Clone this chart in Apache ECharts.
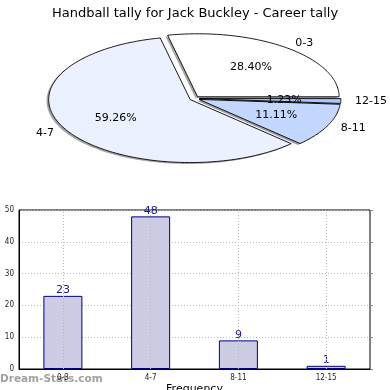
<!DOCTYPE html>
<html>
<head>
<meta charset="utf-8">
<script src="https://cdn.jsdelivr.net/npm/echarts@6/dist/echarts.min.js"></script>
<style>html,body{margin:0;padding:0;background:#fff}#c{width:390px;height:390px}</style>
</head>
<body>
<div id="c"></div>
<script>
const titleText = 'Handball tally for Jack Buckley - Career tally';
const categories = ['0-3', '4-7', '8-11', '12-15'];
const counts = [23, 48, 9, 1];
const pieColors = ['#ffffff', '#ebf1ff', '#c4d8ff', '#a9c4ff'];
const yTicks = [0, 10, 20, 30, 40, 50];

const total = counts.reduce((a, b) => a + b, 0);
const startAng = [], endAng = [];
let acc = 0;
counts.forEach(v => { startAng.push(acc / total * 360); acc += v; endAng.push(acc / total * 360); });
const EXPLODE = 0.035;
const DEG = Math.PI / 180;

function slicePoints(i, api, sx, sy) {
  const a0 = startAng[i], a1 = endAng[i];
  const mid = (a0 + a1) / 2 * DEG;
  const ox = EXPLODE * Math.cos(mid) + sx, oy = EXPLODE * Math.sin(mid) + sy;
  const pts = [api.coord([ox, oy])];
  const steps = Math.max(2, Math.ceil((a1 - a0) / 1));
  for (let k = 0; k <= steps; k++) {
    const t = (a0 + (a1 - a0) * k / steps) * DEG;
    pts.push(api.coord([ox + Math.cos(t), oy + Math.sin(t)]));
  }
  return pts;
}

const chart = echarts.init(document.getElementById('c'), null, {renderer: 'canvas'});
const font = 'DejaVu Sans';
chart.setOption({
  animation: false,
  backgroundColor: '#fff',
  title: {text: titleText, left: 'center', top: 2, textStyle: {fontFamily: font, fontSize: 13, fontWeight: 'normal', color: '#000'}},
  graphic: [{type: 'text', left: 0, top: 374, style: {text: 'Dream-Stats.com', fill: '#a0a0a0', font: 'bold 10.5px "DejaVu Sans"'}}],
  grid: [
    {left: 53, top: 35.5, width: 283, height: 126, show: false, containLabel: false, outerBoundsMode: 'none'},
    {left: 19, top: 210, width: 351, height: 159, show: true, borderColor: '#000', borderWidth: 1, backgroundColor: 'transparent', containLabel: false, outerBoundsMode: 'none'}
  ],
  xAxis: [
    {gridIndex: 0, type: 'value', min: -1, max: 1, show: false},
    {gridIndex: 1, type: 'category', data: categories,
      axisLine: {show: true, lineStyle: {color: '#000'}}, axisTick: {show: false},
      axisLabel: {fontFamily: 'DejaVu Sans Condensed', fontSize: 8, color: '#222', margin: 5},
      name: 'Frequency', nameLocation: 'middle', nameGap: 15,
      nameTextStyle: {fontFamily: font, fontSize: 11, color: '#000'}}
  ],
  yAxis: [
    {gridIndex: 0, type: 'value', min: -1, max: 1, show: false},
    {gridIndex: 1, type: 'value', min: yTicks[0], max: yTicks[yTicks.length - 1], interval: 10,
      axisLine: {show: true, lineStyle: {color: '#000'}}, axisTick: {show: false},
      axisLabel: {fontFamily: 'DejaVu Sans Condensed', fontSize: 8, color: '#222', margin: 5},
      splitLine: {show: true, lineStyle: {color: '#b8b8b8', type: [1, 2], width: 1}}},
    {gridIndex: 1, type: 'value', position: 'right', min: 0, max: 50, interval: 10,
      axisLine: {show: false}, axisTick: {show: true, length: 3, lineStyle: {color: '#888'}},
      axisLabel: {show: false}, splitLine: {show: false}}
  ],
  series: [
    {type: 'custom', xAxisIndex: 0, yAxisIndex: 0, z: 1, silent: true,
      data: counts.map((v, i) => [v, i]),
      renderItem: function (params, api) {
        const i = params.dataIndex;
        const pts = slicePoints(i, api, -0.015, -0.022);
        const f = echarts.color.parse(pieColors[i]);
        const c = 'rgba(' + Math.round(f[0] * 0.3) + ',' + Math.round(f[1] * 0.3) + ',' + Math.round(f[2] * 0.3) + ',0.5)';
        return {type: 'polygon', shape: {points: pts}, style: {fill: c}};
      }},
    {type: 'custom', xAxisIndex: 0, yAxisIndex: 0, z: 2, silent: true,
      data: counts.map((v, i) => [v, i]),
      renderItem: function (params, api) {
        const i = params.dataIndex;
        const pts = slicePoints(i, api, 0, 0);
        const mid = (startAng[i] + endAng[i]) / 2 * DEG;
        const ox = EXPLODE * Math.cos(mid), oy = EXPLODE * Math.sin(mid);
        const pctPos = api.coord([ox + 0.6 * Math.cos(mid), oy + 0.6 * Math.sin(mid)]);
        const lblPos = api.coord([ox + 1.1 * Math.cos(mid), oy + 1.1 * Math.sin(mid)]);
        const pct = (counts[i] / total * 100).toFixed(2) + '%';
        return {type: 'group', children: [
          {type: 'polygon', shape: {points: pts}, style: {fill: pieColors[i], stroke: '#000', lineWidth: 0.9}},
          {type: 'text', x: pctPos[0], y: pctPos[1], z2: 10, style: {text: pct, fill: '#000', font: '11px "DejaVu Sans"', align: 'center', verticalAlign: 'middle'}},
          {type: 'text', x: lblPos[0], y: lblPos[1], z2: 10, style: {text: categories[i], fill: '#000', font: '11px "DejaVu Sans"', align: Math.cos(mid) >= 0 ? 'left' : 'right', verticalAlign: 'middle'}}
        ]};
      }},
    {type: 'bar', xAxisIndex: 1, yAxisIndex: 1, data: counts, barWidth: 39,
      itemStyle: {color: '#ccccE5', borderColor: '#000080', borderWidth: 1},
      label: {show: true, position: 'top', distance: 0, color: '#1a1a8a', fontFamily: font, fontSize: 11},
      markLine: {silent: true, symbol: ['none', 'none'], label: {show: false},
        lineStyle: {color: '#b8b8b8', type: [1, 2], width: 1},
        data: categories.map(c => ({xAxis: c}))}}
  ]
});
</script>
</body>
</html>
